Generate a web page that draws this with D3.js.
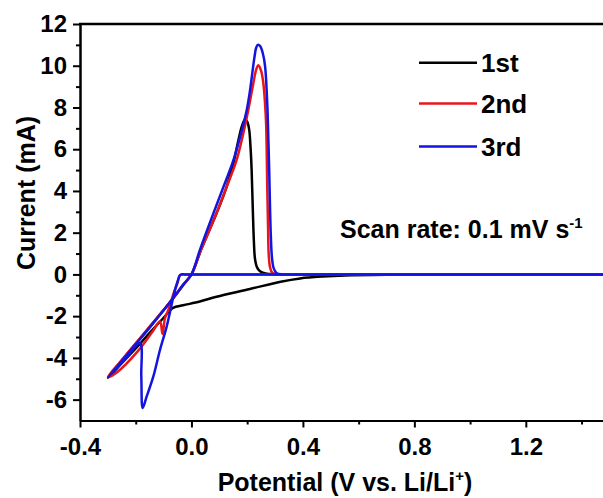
<!DOCTYPE html>
<html>
<head>
<meta charset="utf-8">
<script src="https://cdn.jsdelivr.net/npm/d3@7"></script>
<style>
  html, body { margin: 0; padding: 0; background: #fff; }
  svg { display: block; font-family: "Liberation Sans", Arial, sans-serif; font-weight: bold; }
</style>
</head>
<body>
<svg id="chart" width="603" height="498"></svg>
<script>
// Cyclic voltammograms, points as [potential (V), current (mA)] in scan order
const cycle1 = [
  [1.48, -0.01], [1.0, -0.01], [0.7, -0.02], [0.55, -0.05], [0.47, -0.1], [0.39, -0.19],
  [0.32, -0.35], [0.21, -0.7], [0.09, -1.07], [0.03, -1.3], [-0.03, -1.48], [-0.066, -1.6],
  [-0.1, -2.08], [-0.15, -2.8], [-0.2, -3.55], [-0.25, -4.25], [-0.3, -4.96],
  [-0.25, -4.12], [-0.2, -3.32], [-0.15, -2.52], [-0.1, -1.72], [-0.06, -1.05], [-0.03, -0.52],
  [0.0, 0.0], [0.035, 1.2], [0.09, 2.93], [0.125, 4.15], [0.15, 5.3], [0.168, 6.4],
  [0.181, 7.1], [0.192, 7.43], [0.2, 7.32], [0.207, 6.95], [0.212, 6.1], [0.216, 5.0],
  [0.22, 3.2], [0.224, 1.6], [0.228, 0.75], [0.235, 0.35], [0.246, 0.15], [0.27, 0.03],
  [0.3, 0.0], [0.4, 0.0], [0.7, 0.0], [1.48, 0.0]
];
const cycle2 = [
  [1.48, 0.0], [0.8, 0.0], [0.4, 0.0], [0.15, 0.0], [0.0, 0.0], [-0.025, 0.0], [-0.035, 0.0],
  [-0.042, -0.05], [-0.05, -0.4], [-0.065, -0.95], [-0.083, -1.7],
  [-0.095, -2.1], [-0.104, -2.85], [-0.113, -2.26], [-0.14, -2.75], [-0.197, -3.75],
  [-0.268, -4.7], [-0.3, -4.92],
  [-0.25, -4.1], [-0.2, -3.3], [-0.15, -2.5], [-0.1, -1.7], [-0.06, -1.05], [-0.03, -0.5],
  [0.0, 0.0], [0.035, 1.2], [0.09, 2.93], [0.125, 4.15], [0.162, 5.48], [0.185, 6.7],
  [0.204, 7.88], [0.222, 9.15], [0.232, 9.8], [0.24, 10.02], [0.25, 9.75], [0.258, 9.16],
  [0.264, 8.2], [0.268, 7.2], [0.272, 4.2], [0.275, 2.2], [0.277, 1.03], [0.282, 0.35],
  [0.29, 0.08], [0.31, 0.0], [0.35, 0.0], [0.5, 0.0], [0.8, 0.0], [1.48, 0.0]
];
const cycle3 = [
  [1.48, 0.0], [0.8, 0.0], [0.4, 0.0], [0.15, 0.0], [0.0, 0.0], [-0.025, 0.0], [-0.035, 0.0],
  [-0.042, -0.05], [-0.05, -0.35], [-0.059, -0.74], [-0.065, -1.07],
  [-0.089, -2.5], [-0.113, -3.62], [-0.137, -4.9], [-0.161, -5.86], [-0.175, -6.4],
  [-0.18, -4.9], [-0.185, -3.3], [-0.24, -4.1], [-0.3, -4.95],
  [-0.25, -4.15], [-0.2, -3.35], [-0.15, -2.55], [-0.1, -1.72], [-0.065, -1.12], [-0.03, -0.5],
  [0.0, 0.0], [0.031, 1.2], [0.078, 2.9], [0.115, 4.2], [0.15, 5.45], [0.175, 6.6],
  [0.198, 7.85], [0.21, 8.8], [0.216, 9.4], [0.226, 10.4], [0.232, 10.85], [0.238, 11.0],
  [0.246, 10.95], [0.256, 10.6], [0.264, 10.0], [0.272, 8.2], [0.276, 6.5], [0.279, 5.0],
  [0.282, 3.2], [0.285, 1.8], [0.289, 0.8], [0.295, 0.3], [0.305, 0.07], [0.325, 0.0],
  [0.36, 0.0], [0.5, 0.0], [0.8, 0.0], [1.48, 0.0]
];

const seriesNames = ["1st", "2nd", "3rd"];
const seriesColors = ["#000000", "#e8161b", "#1414e0"];
const xTicks = [-0.4, 0.0, 0.4, 0.8, 1.2];
const xMinorTicks = [-0.2, 0.2, 0.6, 1.0, 1.4];
const yTicks = [-6, -4, -2, 0, 2, 4, 6, 8, 10, 12];
const yMinorTicks = [-5, -3, -1, 1, 3, 5, 7, 9, 11];

const svg = d3.select("#chart");
const x = d3.scaleLinear().domain([-0.4, 1.477]).range([80, 603]);
const y = d3.scaleLinear().domain([-7, 12]).range([420.5, 24]);

const fontSize = 24;

// axes: major ticks with labels, minor ticks without (plain hyphen for negatives)
svg.append("g").attr("transform", `translate(0,${y(-7)})`)
  .call(d3.axisBottom(x).tickValues(xTicks).tickFormat(d => d.toFixed(1))
    .tickSizeInner(7).tickSizeOuter(0).tickPadding(10));
svg.append("g").attr("transform", `translate(0,${y(-7)})`)
  .call(d3.axisBottom(x).tickValues(xMinorTicks).tickFormat("").tickSizeInner(4).tickSizeOuter(0));

svg.append("g").attr("transform", `translate(${x(-0.4)},0)`)
  .call(d3.axisLeft(y).tickValues(yTicks).tickFormat(d => String(d))
    .tickSizeInner(7).tickSizeOuter(0).tickPadding(6));
svg.append("g").attr("transform", `translate(${x(-0.4)},0)`)
  .call(d3.axisLeft(y).tickValues(yMinorTicks).tickFormat("").tickSizeInner(4).tickSizeOuter(0));

svg.selectAll(".domain, .tick line").attr("stroke", "#000").attr("stroke-width", 2);
svg.selectAll(".tick text").attr("fill", "#000")
  .style("font-size", fontSize + "px").style("font-weight", "bold")
  .style("font-family", '"Liberation Sans", Arial, sans-serif');

// top frame line
svg.append("line")
  .attr("x1", x(-0.4) - 1).attr("x2", 603)
  .attr("y1", y(12)).attr("y2", y(12))
  .attr("stroke", "#000").attr("stroke-width", 2.5);

// curves
const line = d3.line().x(d => x(d[0])).y(d => y(d[1])).curve(d3.curveCatmullRom.alpha(0.5));
const plot = svg.append("g");
[cycle1, cycle2, cycle3].forEach((data, i) => {
  plot.append("path")
    .attr("d", line(data))
    .attr("fill", "none")
    .attr("stroke", seriesColors[i])
    .attr("stroke-width", 2.5)
    .attr("stroke-linejoin", "round");
});

// legend
const legendY = [62.7, 103.5, 146.5];
seriesNames.forEach((name, i) => {
  svg.append("line")
    .attr("x1", 419).attr("x2", 477)
    .attr("y1", legendY[i]).attr("y2", legendY[i])
    .attr("stroke", seriesColors[i]).attr("stroke-width", 2.5);
  svg.append("text")
    .attr("x", 481).attr("y", legendY[i])
    .attr("dy", "0.36em")
    .style("font-size", "26px")
    .text(name);
});

// scan rate note
const note = svg.append("text").attr("x", 340).attr("y", 238).style("font-size", "25px");
note.append("tspan").text("Scan rate: 0.1 mV s");
note.append("tspan").attr("dy", -10).style("font-size", "15px").text("-1");

// axis titles
const xt = svg.append("text").attr("x", 345).attr("y", 491)
  .attr("text-anchor", "middle").style("font-size", "25px");
xt.append("tspan").text("Potential (V vs. Li/Li");
xt.append("tspan").attr("dy", -10).style("font-size", "15px").text("+");
xt.append("tspan").attr("dy", 10).text(")");

svg.append("text")
  .attr("transform", "translate(35,193) rotate(-90)")
  .attr("text-anchor", "middle")
  .style("font-size", "25px")
  .text("Current (mA)");
</script>
</body>
</html>
